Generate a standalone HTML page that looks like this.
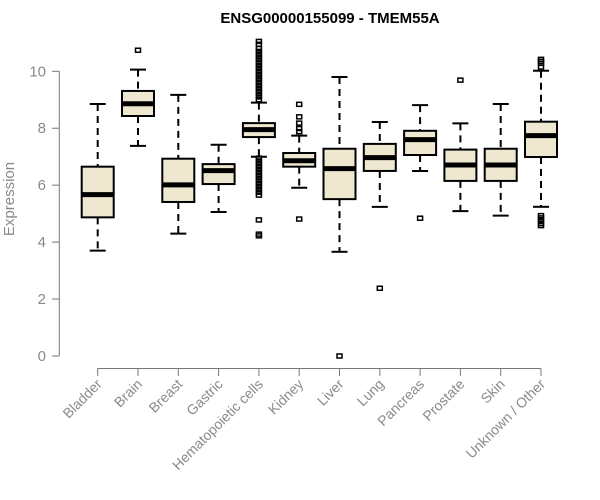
<!DOCTYPE html>
<html><head><meta charset="utf-8"><style>
body{margin:0;background:#fff;}
svg{display:block;font-family:"Liberation Sans",Arial,sans-serif;}
</style></head><body>
<svg id="chart" width="600" height="500">
<text x="330" y="23" text-anchor="middle" font-weight="bold" font-size="15" fill="#000">ENSG00000155099 - TMEM55A</text>
<text transform="translate(14,199) rotate(-90)" text-anchor="middle" font-size="15" fill="#8a8a8a">Expression</text>
<g id="axes"></g><g id="boxes"></g>
</svg>
<script>
const categories=["Bladder","Brain","Breast","Gastric","Hematopoietic cells","Kidney","Liver","Lung","Pancreas","Prostate","Skin","Unknown / Other"];
const whiskerLow=[3.70,7.38,4.30,5.06,7.00,5.91,3.66,5.24,6.50,5.09,4.93,5.24];
const q1=[4.87,8.43,5.41,6.04,7.69,6.65,5.51,6.50,7.06,6.15,6.15,6.99];
const medians=[5.67,8.86,6.01,6.51,7.95,6.86,6.58,6.97,7.60,6.71,6.71,7.74];
const q3=[6.65,9.31,6.93,6.74,8.18,7.13,7.28,7.45,7.91,7.25,7.28,8.23];
const whiskerHigh=[8.85,10.06,9.17,7.42,8.90,7.74,9.80,8.22,8.81,8.17,8.85,10.02];
const outliers=[[],[10.74],[],[],
[9.0,9.1,9.2,9.3,9.4,9.5,9.6,9.7,9.8,9.9,10.0,10.1,10.2,10.3,10.4,10.5,10.6,10.7,10.8,10.95,11.05,6.95,6.85,6.75,6.65,6.55,6.45,6.35,6.25,6.15,6.05,5.95,5.85,5.75,5.65,4.78,4.28,4.22],
[8.84,8.40,8.18,7.99,7.88,4.81],[0],[2.38],[4.84],[9.69],[],
[10.42,10.35,10.28,10.15,4.93,4.85,4.75,4.65,4.58]];
const yTicks=[0,2,4,6,8,10];
const NS="http://www.w3.org/2000/svg";
const y=v=>356-v*28.47;
const x=i=>97.7+i*40.3;
function mk(tag,attrs,parent){const e=document.createElementNS(NS,tag);for(const k in attrs)e.setAttribute(k,attrs[k]);parent.appendChild(e);return e;}
const ax=document.getElementById("axes"),bx=document.getElementById("boxes");
let l=mk("line",{x1:59.3,x2:59.3,y1:y(10),y2:y(0),stroke:"#777","stroke-width":1},ax);


yTicks.forEach(t=>{
 const tk=mk("line",{x1:52,x2:59.3,y1:y(t),y2:y(t),stroke:"#777"},ax);
 
 
 const tx=mk("text",{x:46,y:y(t)+5,"text-anchor":"end","font-size":15,fill:"#8a8a8a"},ax);
 tx.textContent=t;
 
 
});
l=mk("line",{x1:x(0),x2:x(categories.length-1),y1:368.5,y2:368.5,stroke:"#777"},ax);


categories.forEach((c,i)=>{
 const cx=x(i);
 const tk=mk("line",{x1:cx,x2:cx,y1:368.5,y2:376,stroke:"#777"},ax);
 
 
 const tx=mk("text",{transform:`translate(${cx+5},${385}) rotate(-45)`,"text-anchor":"end","font-size":14,fill:"#8a8a8a"},ax);
 tx.textContent=c;
 
 
 const g=mk("g",{},bx);
 
 
 mk("line",{x1:cx,x2:cx,y1:y(whiskerHigh[i]),y2:y(q3[i]),stroke:"#000","stroke-width":2,"stroke-dasharray":"7,5"},g);
 mk("line",{x1:cx,x2:cx,y1:y(q1[i]),y2:y(whiskerLow[i]),stroke:"#000","stroke-width":2,"stroke-dasharray":"7,5"},g);
 mk("line",{x1:cx-8,x2:cx+8,y1:y(whiskerHigh[i]),y2:y(whiskerHigh[i]),stroke:"#000","stroke-width":2},g);
 mk("line",{x1:cx-8,x2:cx+8,y1:y(whiskerLow[i]),y2:y(whiskerLow[i]),stroke:"#000","stroke-width":2},g);
 mk("rect",{x:cx-16,y:y(q3[i]),width:32,height:y(q1[i])-y(q3[i]),fill:"#ede8cf",stroke:"#000","stroke-width":2},g);
 mk("line",{x1:cx-16,x2:cx+16,y1:y(medians[i]),y2:y(medians[i]),stroke:"#000","stroke-width":5},g);
 outliers[i].forEach(v=>{
  const o=mk("rect",{x:cx-2.5,y:y(v)-2,width:5,height:4,fill:"none",stroke:"#000","stroke-width":1.5},g);
  
  
 });
});
</script>
</body></html>
